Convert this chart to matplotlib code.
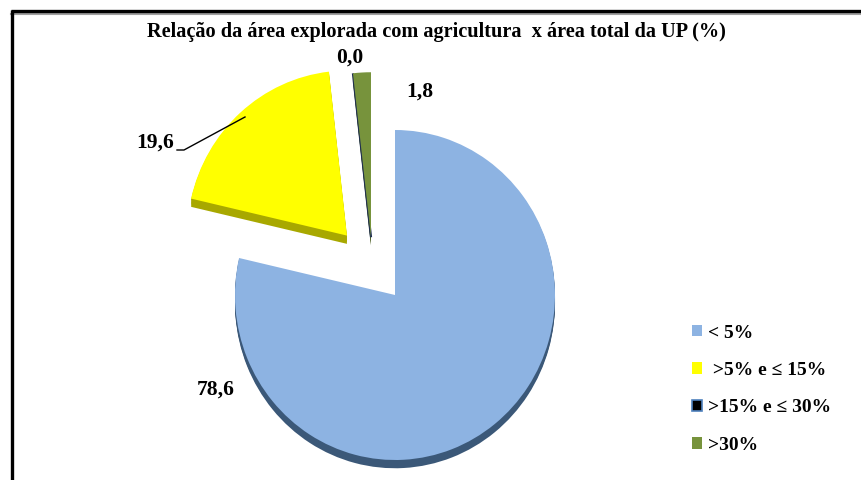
import matplotlib
matplotlib.use("Agg")
import matplotlib.pyplot as plt

plt.rcParams["font.family"] = ["Liberation Serif", "DejaVu Serif"]
plt.rcParams["font.weight"] = "bold"

# ---------------------------------------------------------------------------
# Data
# ---------------------------------------------------------------------------
title = "Relação da área explorada com agricultura  x área total da UP (%)"
categories = ["< 5%", " >5% e \u2264 15%", ">15% e \u2264 30%", ">30%"]
values = [78.6, 19.6, 0.0, 1.8]

colors = ["#8DB3E2", "#FFFF00", "#000000", "#77933C"]
side_colors = ["#3B5878", "#A8A800", "#000000", "#4F6228"]

# per-slice displacement (pie units) -> exploded look of the original
offsets = [(0.0, 0.0), (-0.30, 0.36), (-0.15, 0.35), (-0.15, 0.35)]
DEPTH = 0.05

W, H, DPI = 861, 480, 100
fig = plt.figure(figsize=(W / DPI, H / DPI), dpi=DPI)

# background axes in pixel units (y downwards) for frame and labels
bg = fig.add_axes([0, 0, 1, 1])
bg.set_xlim(0, W)
bg.set_ylim(H, 0)
bg.axis("off")
bg.set_zorder(3)
bg.patch.set_alpha(0)

# frame: only top and left edges visible
bg.plot([11, W], [13.5, 13.5], color="#a0a0a0", lw=1.5, zorder=1)
bg.plot([11, W], [11, 11], color="black", lw=2.4, zorder=2,
        solid_capstyle="butt")
bg.plot([12, 12], [10, H], color="black", lw=2.4, zorder=2,
        solid_capstyle="butt")

bg.text(436, 32, title, ha="center", va="center", fontsize=14.6,
        fontweight="bold")

# ---------------------------------------------------------------------------
# Pie: one unit = 160 px horizontally, 165 px vertically
# ---------------------------------------------------------------------------
CX, CY, RX, RY = 395, 295, 160, 165
ax = fig.add_axes([(CX - 2 * RX) / W, (H - CY - 2 * RY) / H,
                   4 * RX / W, 4 * RY / H])
ax.patch.set_alpha(0)
ax.set_zorder(1)

# side (depth) layers first
n_layers = 6
for k in range(n_layers, 0, -1):
    d = DEPTH * k / n_layers
    side, _ = ax.pie(values, colors=side_colors, startangle=90,
                     counterclock=False, radius=1,
                     wedgeprops=dict(linewidth=0))
    for w, (ox, oy) in zip(side, offsets):
        w.set_center((ox, oy - d))

wedges, _ = ax.pie(values, colors=colors, startangle=90, counterclock=False,
                   radius=1, wedgeprops=dict(linewidth=0))
for w, (ox, oy) in zip(wedges, offsets):
    w.set_center((ox, oy))
wedges[2].set_edgecolor("#1F2F4F")
wedges[2].set_linewidth(1.6)

ax.set_aspect("auto")
ax.set_xlim(-2, 2)
ax.set_ylim(-2, 2)
ax.axis("off")

# value labels
def fmt(v):
    return f"{v:.1f}".replace(".", ",")

label_pos = [(216, 390), (155, 143), (350, 58), (420, 92)]
for v, (lx, ly) in zip(values, label_pos):
    bg.text(lx, ly, fmt(v), ha="center", va="center", fontsize=15.5,
            fontweight="bold")
bg.plot([177, 184, 245], [150, 150, 117], color="black", lw=1.0)

# legend
leg = fig.legend(wedges, categories, loc="upper left",
                 bbox_to_anchor=(674 / W, 1 - 307 / H), frameon=False,
                 fontsize=14, handlelength=0.55, handleheight=0.55,
                 handletextpad=0.3, labelspacing=1.05)
leg.legend_handles[2].set_edgecolor("#4F81BD")
leg.legend_handles[2].set_linewidth(1.2)

fig.savefig("out.png", dpi=DPI)
